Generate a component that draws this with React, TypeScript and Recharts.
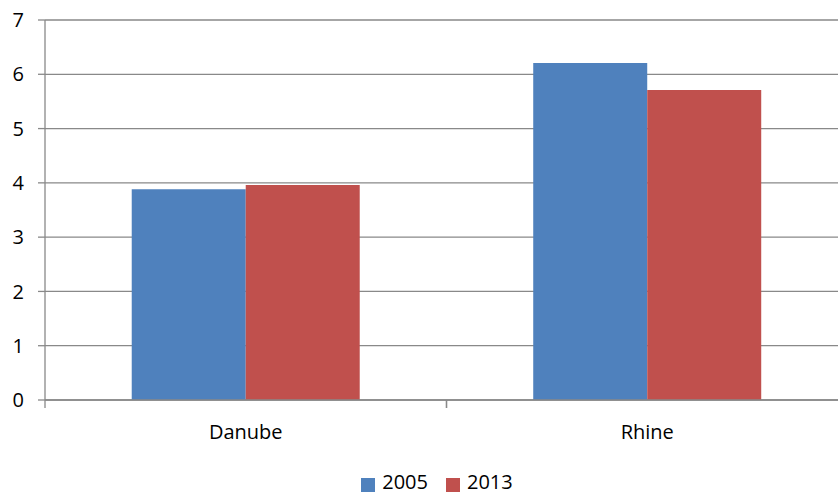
import React from 'react';
import { BarChart, Bar, XAxis, YAxis, CartesianGrid, Legend } from 'recharts';

const rivers = ['Danube', 'Rhine'];
const values2005 = [3.88, 6.21];
const values2013 = [3.96, 5.71];
const yTicks = [0, 1, 2, 3, 4, 5, 6, 7];

const data = rivers.map((r, i) => ({ river: r, y2005: values2005[i], y2013: values2013[i] }));

const FONT = '"Open Sans", sans-serif';
const GRAY = '#898989';

const CategoryTick = (props: any) => {
  const { x, y, payload } = props;
  const half = payload.offset || 0;
  const axisY = y - 16;
  return (
    <g>
      <line x1={x - half} x2={x - half} y1={axisY} y2={axisY + 8} stroke={GRAY} strokeWidth={1.3} />
      <line x1={x + half} x2={x + half} y1={axisY} y2={axisY + 8} stroke={GRAY} strokeWidth={1.3} />
      <text x={x} y={y} dy={23} textAnchor="middle" fill="#000" fontSize={20} fontFamily={FONT}>
        {payload.value}
      </text>
    </g>
  );
};

export default function App() {
  return (
    <div style={{ position: 'absolute', left: 0, top: 0, width: 838, height: 495, overflow: 'hidden', background: '#fff' }}>
      <BarChart
        width={848}
        height={495}
        data={data}
        margin={{ top: 20, right: 0, left: 0, bottom: 0 }}
        barCategoryGap="21.6%"
        barGap={0}
      >
        <CartesianGrid vertical={false} stroke={GRAY} strokeWidth={1.3} />
        <XAxis
          dataKey="river"
          interval={0}
          tickLine={false}
          tickSize={8}
          tickMargin={8}
          tick={<CategoryTick />}
          axisLine={{ stroke: GRAY, strokeWidth: 1.3 }}
          height={68}
        />
        <YAxis
          domain={[0, 7]}
          ticks={yTicks}
          interval={0}
          width={45}
          tickSize={7}
          tickMargin={14}
          tickLine={{ stroke: GRAY, strokeWidth: 1.3 }}
          axisLine={{ stroke: GRAY, strokeWidth: 1.3 }}
          tick={{ fill: '#000', fontSize: 20, fontFamily: FONT }}
        />
        <Legend
          verticalAlign="bottom"
          iconType="square"
          iconSize={14}
          wrapperStyle={{ paddingLeft: 22 }}
          formatter={(value: string) => (
            <span style={{ color: '#000', fontSize: 20, fontFamily: FONT, marginLeft: 3, marginRight: 8 }}>{value}</span>
          )}
        />
        <Bar dataKey="y2005" name="2005" fill="#4F81BD" isAnimationActive={false} />
        <Bar dataKey="y2013" name="2013" fill="#C0504D" isAnimationActive={false} />
      </BarChart>
    </div>
  );
}
